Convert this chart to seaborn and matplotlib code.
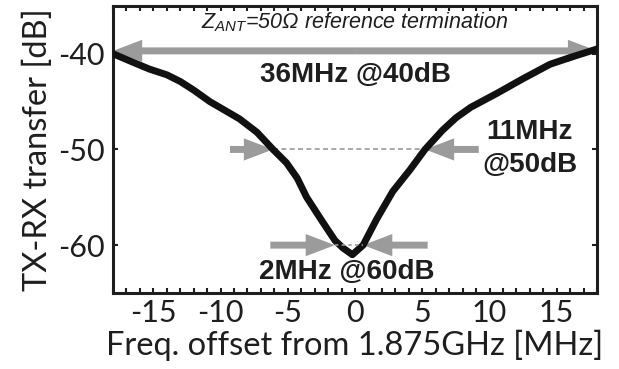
import matplotlib
matplotlib.use('Agg')
import matplotlib.pyplot as plt
import seaborn as sns
from matplotlib.patches import FancyArrowPatch
from matplotlib.ticker import MultipleLocator

# measured TX-RX transfer around 1.875 GHz
freq_offset = [-18.0, -16.5, -15.3, -14.0, -13.0, -12.0, -10.8, -9.7, -8.6, -7.3, -6.1, -5.1, -4.3,
               -3.6, -2.4, -1.5, -0.9, -0.2, 0.6, 1.6, 2.8, 4.1, 5.2, 6.5, 7.5, 8.6, 10.6, 12.5,
               14.5, 16.2, 18.0]
transfer_db = [-40.0, -40.9, -41.6, -42.2, -42.9, -43.8, -45.0, -45.9, -46.8, -48.2, -50.0, -51.4, -53.0,
               -55.0, -57.6, -59.5, -60.3, -61.0, -60.0, -57.3, -54.4, -52.1, -50.0, -48.0, -46.7, -45.6,
               -44.1, -42.6, -41.1, -40.3, -39.5]

# bandwidth markers
bw_40 = (-39.7, -18.0, 18.0)                 # level, left end, right end
bw_50 = (-50.0, -9.3, -6.1, 5.2, 9.2)        # level, left tail, left tip, right tip, right tail
bw_60 = (-60.0, -6.3, -1.5, 0.6, 5.4)

x_ticks = [-15, -10, -5, 0, 5, 10, 15]
y_ticks = [-40, -50, -60]

GRAY = '#9b9b9b'
INK = '#1e1e1e'

sns.set_style('ticks')
plt.rcParams['font.family'] = ['Lato', 'DejaVu Sans']
plt.rcParams['axes.unicode_minus'] = False
plt.rcParams['mathtext.fontset'] = 'custom'
plt.rcParams['mathtext.it'] = 'Liberation Sans:italic'
plt.rcParams['mathtext.rm'] = 'Liberation Sans'

fig = plt.figure(figsize=(6.19, 3.69), dpi=100)
ax = fig.add_axes([0.1826, 0.206, 0.782, 0.778])


def arrow(x_from, x_to, y):
    ax.add_patch(FancyArrowPatch((x_from, y), (x_to, y), mutation_scale=1,
                                 arrowstyle='simple,head_length=21,head_width=16,tail_width=5',
                                 color=GRAY, lw=0, shrinkA=0, shrinkB=0, zorder=2))


# 40 dB double arrow
arrow(0, bw_40[1], bw_40[0])
arrow(0, bw_40[2], bw_40[0])
# 50 dB
ax.plot([bw_50[2], bw_50[3]], [bw_50[0]] * 2, color=GRAY, lw=1.2, ls=(0, (3, 2)), zorder=1)
arrow(bw_50[1], bw_50[2], bw_50[0])
arrow(bw_50[4], bw_50[3], bw_50[0])
# 60 dB
ax.plot([bw_60[2], bw_60[3]], [bw_60[0]] * 2, color=GRAY, lw=1.2, ls=(0, (2, 2)), zorder=4)
arrow(bw_60[1], bw_60[2], bw_60[0])
arrow(bw_60[4], bw_60[3], bw_60[0])

sns.lineplot(x=freq_offset, y=transfer_db, color='#111111', lw=5, estimator=None, ax=ax, zorder=3)

ax.text(0, -36.7, r'$Z_{ANT}$=50Ω reference termination', ha='center', va='center',
        fontsize=15.5, style='italic', family='Liberation Sans', color=INK)
bold = dict(family='Liberation Sans', fontweight='bold', fontsize=20, color=INK)
ax.text(0, -42.2, '36MHz @40dB', ha='center', va='center', **bold)
ax.text(13.0, -48.2, '11MHz', ha='center', va='center', **bold)
ax.text(13.0, -51.6, '@50dB', ha='center', va='center', **bold)
ax.text(-0.6, -62.8, '2MHz @60dB', ha='center', va='center', **bold)

ax.set_xlim(-18, 18)
ax.set_ylim(-65, -35)
ax.set_xticks(x_ticks)
ax.set_yticks(y_ticks)
ax.xaxis.set_minor_locator(MultipleLocator(1))
ax.tick_params(which='both', direction='in', top=True, right=True, length=3.5, width=1.5,
               labelsize=22, colors=INK)
ax.tick_params(axis='x', pad=4)
ax.tick_params(axis='y', pad=6)
for side in ax.spines.values():
    side.set_linewidth(2.2)
    side.set_color(INK)

ax.set_xlabel('Freq. offset from 1.875GHz [MHz]', fontsize=23.5, color=INK, labelpad=2)
ax.set_ylabel('TX-RX transfer [dB]', fontsize=23.5, color=INK, labelpad=4)

fig.savefig('out.png', dpi=100)
